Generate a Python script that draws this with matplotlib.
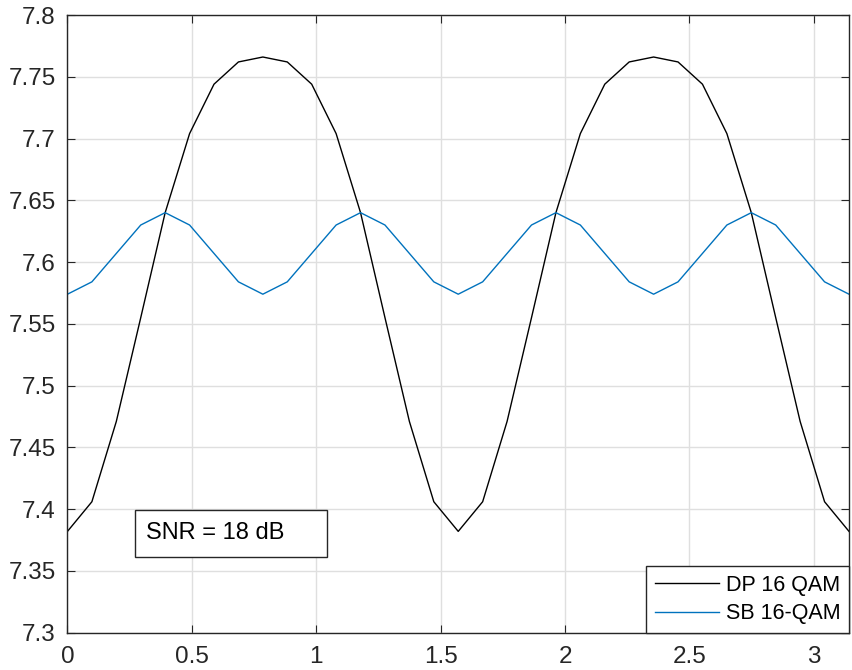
import numpy as np
import matplotlib
matplotlib.use("Agg")
import matplotlib.pyplot as plt
from matplotlib.patches import Rectangle

plt.rcParams['font.family'] = ['Liberation Sans', 'DejaVu Sans']

# phase samples from 0 to pi in steps of pi/32
theta = np.linspace(0, np.pi, 33)

dp_16qam = [7.382, 7.406, 7.471, 7.555, 7.640, 7.704, 7.744, 7.762, 7.766,
            7.762, 7.744, 7.704, 7.640, 7.555, 7.471, 7.406, 7.382,
            7.406, 7.471, 7.555, 7.640, 7.704, 7.744, 7.762, 7.766,
            7.762, 7.744, 7.704, 7.640, 7.555, 7.471, 7.406, 7.382]

sb_16qam = [7.574, 7.584, 7.607, 7.630, 7.640, 7.630, 7.607, 7.584, 7.574,
            7.584, 7.607, 7.630, 7.640, 7.630, 7.607, 7.584, 7.574,
            7.584, 7.607, 7.630, 7.640, 7.630, 7.607, 7.584, 7.574,
            7.584, 7.607, 7.630, 7.640, 7.630, 7.607, 7.584, 7.574]

series_labels = ['DP 16 QAM', 'SB 16-QAM']
x_ticks = [0, 0.5, 1, 1.5, 2, 2.5, 3]
x_tick_labels = ['0', '0.5', '1', '1.5', '2', '2.5', '3']
y_ticks = [7.3, 7.35, 7.4, 7.45, 7.5, 7.55, 7.6, 7.65, 7.7, 7.75, 7.8]
y_tick_labels = ['7.3', '7.35', '7.4', '7.45', '7.5', '7.55', '7.6', '7.65', '7.7', '7.75', '7.8']
note = 'SNR = 18 dB'

fig = plt.figure(figsize=(8.53, 6.70), dpi=100)
ax = fig.add_axes([0.0791, 0.0557, 0.9162, 0.9219])

ax.plot(theta, dp_16qam, color='black', lw=1.0, label=series_labels[0])
ax.plot(theta, sb_16qam, color='#0072BD', lw=1.0, label=series_labels[1])

ax.set_xlim(0, np.pi)
ax.set_ylim(7.3, 7.8)
ax.set_xticks(x_ticks)
ax.set_xticklabels(x_tick_labels)
ax.set_yticks(y_ticks)
ax.set_yticklabels(y_tick_labels)

ax.grid(True, color='#dfdfdf', lw=1.0)
ax.set_axisbelow(True)
for s in ax.spines.values():
    s.set_color('#262626')
    s.set_linewidth(1.0)
ax.tick_params(direction='in', length=6, width=0.8, color='#262626',
               labelsize=17.5, labelcolor='#262626', top=True, right=True)
ax.tick_params(axis='y', pad=8.5)
ax.tick_params(axis='x', pad=9.5)

leg = ax.legend(loc='lower right', borderaxespad=0, fontsize=15.5,
                fancybox=False, framealpha=1, edgecolor='#262626',
                handlelength=3.0, handletextpad=0.3, borderpad=0.4,
                labelspacing=0.35, handleheight=0.6)
leg.get_frame().set_linewidth(1.0)

ax.add_patch(Rectangle((0.0860, 0.1226), 0.2466, 0.0760, transform=ax.transAxes,
                       fill=True, facecolor='white', edgecolor='#262626', lw=1.0, zorder=5))
ax.text(0.1004, 0.1606, note, transform=ax.transAxes, fontsize=17,
        va='center', ha='left', color='black', zorder=6)

fig.savefig('out.png', dpi=100)
